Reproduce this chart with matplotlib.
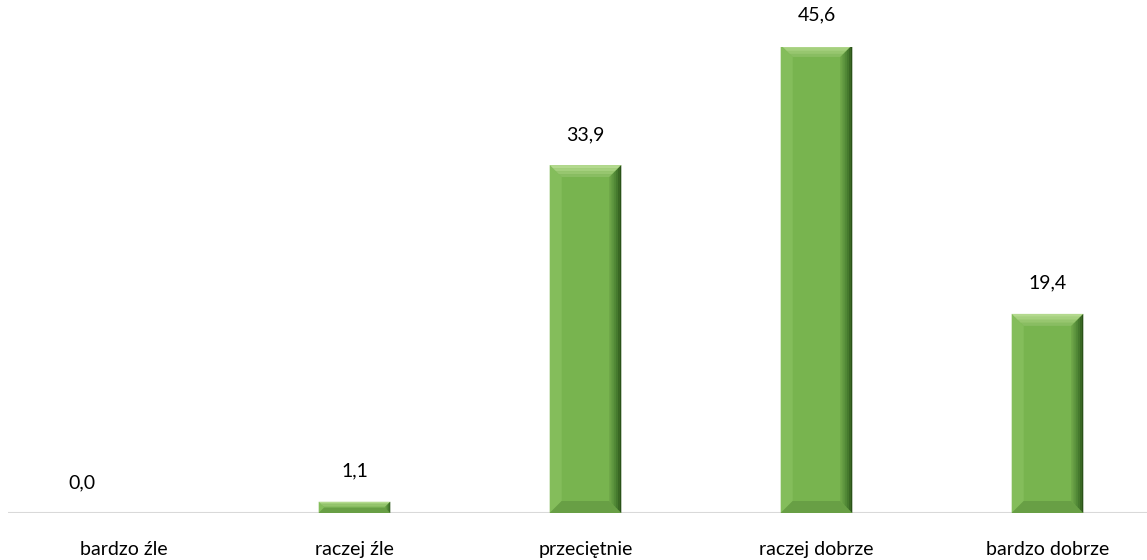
import matplotlib.pyplot as plt
from matplotlib.patches import Polygon

categories = ["bardzo źle", "raczej źle", "przeciętnie", "raczej dobrze", "bardzo dobrze"]
values = [0.0, 1.1, 33.9, 45.6, 19.4]
labels = ["0,0", "1,1", "33,9", "45,6", "19,4"]

plt.rcParams['font.family'] = ['Lato', 'DejaVu Sans']

fig = plt.figure(figsize=(11.47, 5.6), dpi=100)
ax = fig.add_axes([8 / 1147, 47 / 560, 1155 / 1147, 466 / 560])
ax.set_xlim(-0.5, 4.5)
ax.set_ylim(0, 45.4)

bar_w = 0.31
# pixel sizes in data units
px_x = 1.0 / 231
px_y = 45.4 / 466
bev = 12

base = "#78B44F"
right_shades = ["#6CA347", "#5F9740", "#528937", "#457A2E", "#386824", "#2A5218"]
top_shades = ["#B3D98E", "#A5D07E", "#97C66F", "#89BD62"]

for i, v in enumerate(values):
    if v <= 0:
        continue
    x0, x1 = i - bar_w / 2, i + bar_w / 2
    y0, y1 = 0, v
    by = min(bev * px_y, v / 2)
    bx = by / px_y * px_x
    ax.add_patch(Polygon([(x0, y0), (x1, y0), (x1, y1), (x0, y1)], closed=True,
                         facecolor=base, edgecolor="none", zorder=2))
    # left bevel
    ax.add_patch(Polygon([(x0, y0), (x0 + bx, y0 + by), (x0 + bx, y1 - by), (x0, y1)],
                         closed=True, facecolor="#84BD5B", edgecolor="none", zorder=3))
    # bottom bevel
    ax.add_patch(Polygon([(x0, y0), (x1, y0), (x1 - bx, y0 + by), (x0 + bx, y0 + by)],
                         closed=True, facecolor="#689F45", edgecolor="none", zorder=3))
    # top bevel gradient
    n = len(top_shades)
    for k in range(n):
        f0, f1 = k / n, (k + 1) / n
        ax.add_patch(Polygon([(x0 + bx * f0, y1 - by * f0), (x1 - bx * f0, y1 - by * f0),
                              (x1 - bx * f1, y1 - by * f1), (x0 + bx * f1, y1 - by * f1)],
                             closed=True, facecolor=top_shades[k], edgecolor="none", zorder=3))
    # right bevel gradient
    n = len(right_shades)
    for k in range(n):
        f0, f1 = k / n, (k + 1) / n
        xa, xb = x1 - bx * (1 - f0), x1 - bx * (1 - f1)
        ya0, yb0 = y0 + by * (1 - f0), y0 + by * (1 - f1)
        ya1, yb1 = y1 - by * (1 - f0), y1 - by * (1 - f1)
        ax.add_patch(Polygon([(xa, ya0), (xb, yb0), (xb, yb1), (xa, ya1)], closed=True,
                             facecolor=right_shades[k], edgecolor="none", zorder=3))

for i, (v, lab) in enumerate(zip(values, labels)):
    dx = -0.18 if v == 0 else 0
    ax.annotate(lab, (i + dx, v), xytext=(0, 22), textcoords="offset points",
                ha="center", va="center", fontsize=14, color="#000000",
                annotation_clip=False)

ax.axhline(0, color="#D9D9D9", lw=1.5, zorder=1)
ax.set_xticks(range(len(categories)))
ax.set_xticklabels(categories, fontsize=14)
ax.tick_params(axis="x", length=0, pad=20)
ax.set_yticks([])
for s in ax.spines.values():
    s.set_visible(False)

fig.savefig("out.png", dpi=100)
